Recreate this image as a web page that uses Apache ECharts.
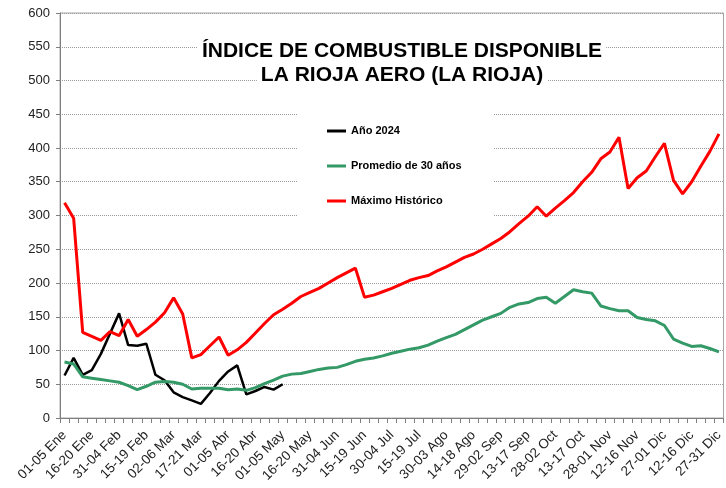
<!DOCTYPE html>
<html>
<head>
<meta charset="utf-8">
<script src="https://cdn.jsdelivr.net/npm/echarts@6/dist/echarts.min.js"></script>
<style>
html,body{margin:0;padding:0;background:#fff;}
#chart{width:726px;height:488px;}
</style>
</head>
<body>
<div id="chart"></div>
<script>
const categories = [
  "01-05 Ene","06-10 Ene","11-15 Ene","16-20 Ene","21-25 Ene","26-30 Ene",
  "31-04 Feb","05-09 Feb","10-14 Feb","15-19 Feb","20-24 Feb","25-01 Mar",
  "02-06 Mar","07-11 Mar","12-16 Mar","17-21 Mar","22-26 Mar","27-31 Mar",
  "01-05 Abr","06-10 Abr","11-15 Abr","16-20 Abr","21-25 Abr","26-30 Abr",
  "01-05 May","06-10 May","11-15 May","16-20 May","21-25 May","26-30 May",
  "31-04 Jun","05-09 Jun","10-14 Jun","15-19 Jun","20-24 Jun","25-29 Jun",
  "30-04 Jul","05-09 Jul","10-14 Jul","15-19 Jul","20-24 Jul","25-29 Jul",
  "30-03 Ago","04-08 Ago","09-13 Ago","14-18 Ago","19-23 Ago","24-28 Ago",
  "29-02 Sep","03-07 Sep","08-12 Sep","13-17 Sep","18-22 Sep","23-27 Sep",
  "28-02 Oct","03-07 Oct","08-12 Oct","13-17 Oct","18-22 Oct","23-27 Oct",
  "28-01 Nov","02-06 Nov","07-11 Nov","12-16 Nov","17-21 Nov","22-26 Nov",
  "27-01 Dic","02-06 Dic","07-11 Dic","12-16 Dic","17-21 Dic","22-26 Dic",
  "27-31 Dic"
];

const anio2024 = [
  63, 89, 64, 71, 95, 125, 155, 108, 107, 110, 64, 56,
  38, 31, 26, 21, 37, 55, 69, 78, 35, 40, 46, 42, 50
];

const promedio30 = [
  83, 80, 61, 59, 57, 55, 53, 48, 42, 47, 53, 54,
  53, 50, 43, 44, 44, 44, 42, 43, 41, 45, 51, 56,
  62, 65, 66, 69, 72, 74, 75, 79, 84, 87, 89, 92,
  96, 99, 102, 104, 108, 114, 119, 124, 131, 138, 145, 150,
  155, 164, 169, 171, 177, 179, 170, 180, 190, 187, 185, 166,
  162, 159, 159, 149, 146, 144, 137, 117, 111, 106, 107, 103,
  98
];

const maximoHistorico = [
  319, 296, 127, 121, 115, 128, 122, 146, 121, 131, 142, 156,
  178, 154, 89, 94, 107, 120, 93, 101, 112, 126, 140, 153,
  161, 170, 180, 186, 192, 200, 208, 215, 222, 179, 182, 187,
  192, 198, 204, 208, 211, 218, 224, 231, 238, 243, 250, 258,
  266, 276, 288, 299, 313, 299, 311, 322, 334, 350, 364, 384,
  394, 416, 340, 356, 366, 387, 407, 352, 332, 350, 373, 395,
  421
];

const seriesNames = ["Año 2024", "Promedio de 30 años", "Máximo Histórico"];
const titleLines = ["ÍNDICE DE COMBUSTIBLE DISPONIBLE", "LA RIOJA AERO (LA RIOJA)"];

const FONT = "'Liberation Sans', Arial, sans-serif";
const chart = echarts.init(document.getElementById('chart'), null, {renderer: 'canvas'});

const titleStyle = {fontSize: 21, fontWeight: 'bold', color: '#000', fontFamily: FONT, lineHeight: 21};

chart.setOption({
  animation: false,
  backgroundColor: '#fff',
  title: [
    {text: titleLines[0], left: 398, top: 39, textAlign: 'center', padding: [2, 4],
     backgroundColor: '#fff', textStyle: titleStyle},
    {text: titleLines[1], left: 398, top: 63, textAlign: 'center', padding: [2, 4],
     backgroundColor: '#fff', textStyle: titleStyle}
  ],
  legend: {
    data: seriesNames,
    orient: 'vertical',
    left: 298,
    top: 100,
    padding: [24, 32, 28, 29],
    backgroundColor: '#fff',
    icon: 'rect',
    itemWidth: 19,
    itemHeight: 3,
    itemGap: 21,
    textStyle: {fontSize: 11, fontWeight: 'bold', color: '#000', fontFamily: FONT, lineHeight: 14}
  },
  grid: {
    left: 60, right: -2, top: 13, bottom: 70,
    show: true, borderColor: '#a6a6a6', borderWidth: 1, backgroundColor: 'transparent'
  },
  xAxis: {
    type: 'category',
    data: categories,
    boundaryGap: true,
    axisLine: {lineStyle: {color: '#808080', width: 1}},
    axisTick: {show: true, interval: 0, length: 5, lineStyle: {color: '#808080'}},
    axisLabel: {interval: 2, rotate: 45, fontSize: 13.5, color: '#222', fontFamily: FONT, margin: 15},
    splitLine: {show: false}
  },
  yAxis: {
    type: 'value',
    min: 0, max: 600, interval: 50,
    axisLine: {show: true, lineStyle: {color: '#808080', width: 1}},
    axisTick: {show: true, length: 4, lineStyle: {color: '#808080'}},
    axisLabel: {fontSize: 13, color: '#222', fontFamily: FONT, margin: 10},
    splitLine: {show: true, lineStyle: {type: 'dotted', color: '#9a9a9a', width: 1}}
  },
  series: [
    {name: seriesNames[0], type: 'line', data: anio2024, symbol: 'none',
     lineStyle: {color: '#000000', width: 2.5}, itemStyle: {color: '#000000'}},
    {name: seriesNames[1], type: 'line', data: promedio30, symbol: 'none',
     lineStyle: {color: '#339966', width: 3}, itemStyle: {color: '#339966'}},
    {name: seriesNames[2], type: 'line', data: maximoHistorico, symbol: 'none',
     lineStyle: {color: '#ff0000', width: 3}, itemStyle: {color: '#ff0000'}}
  ]
});
</script>
</body>
</html>
